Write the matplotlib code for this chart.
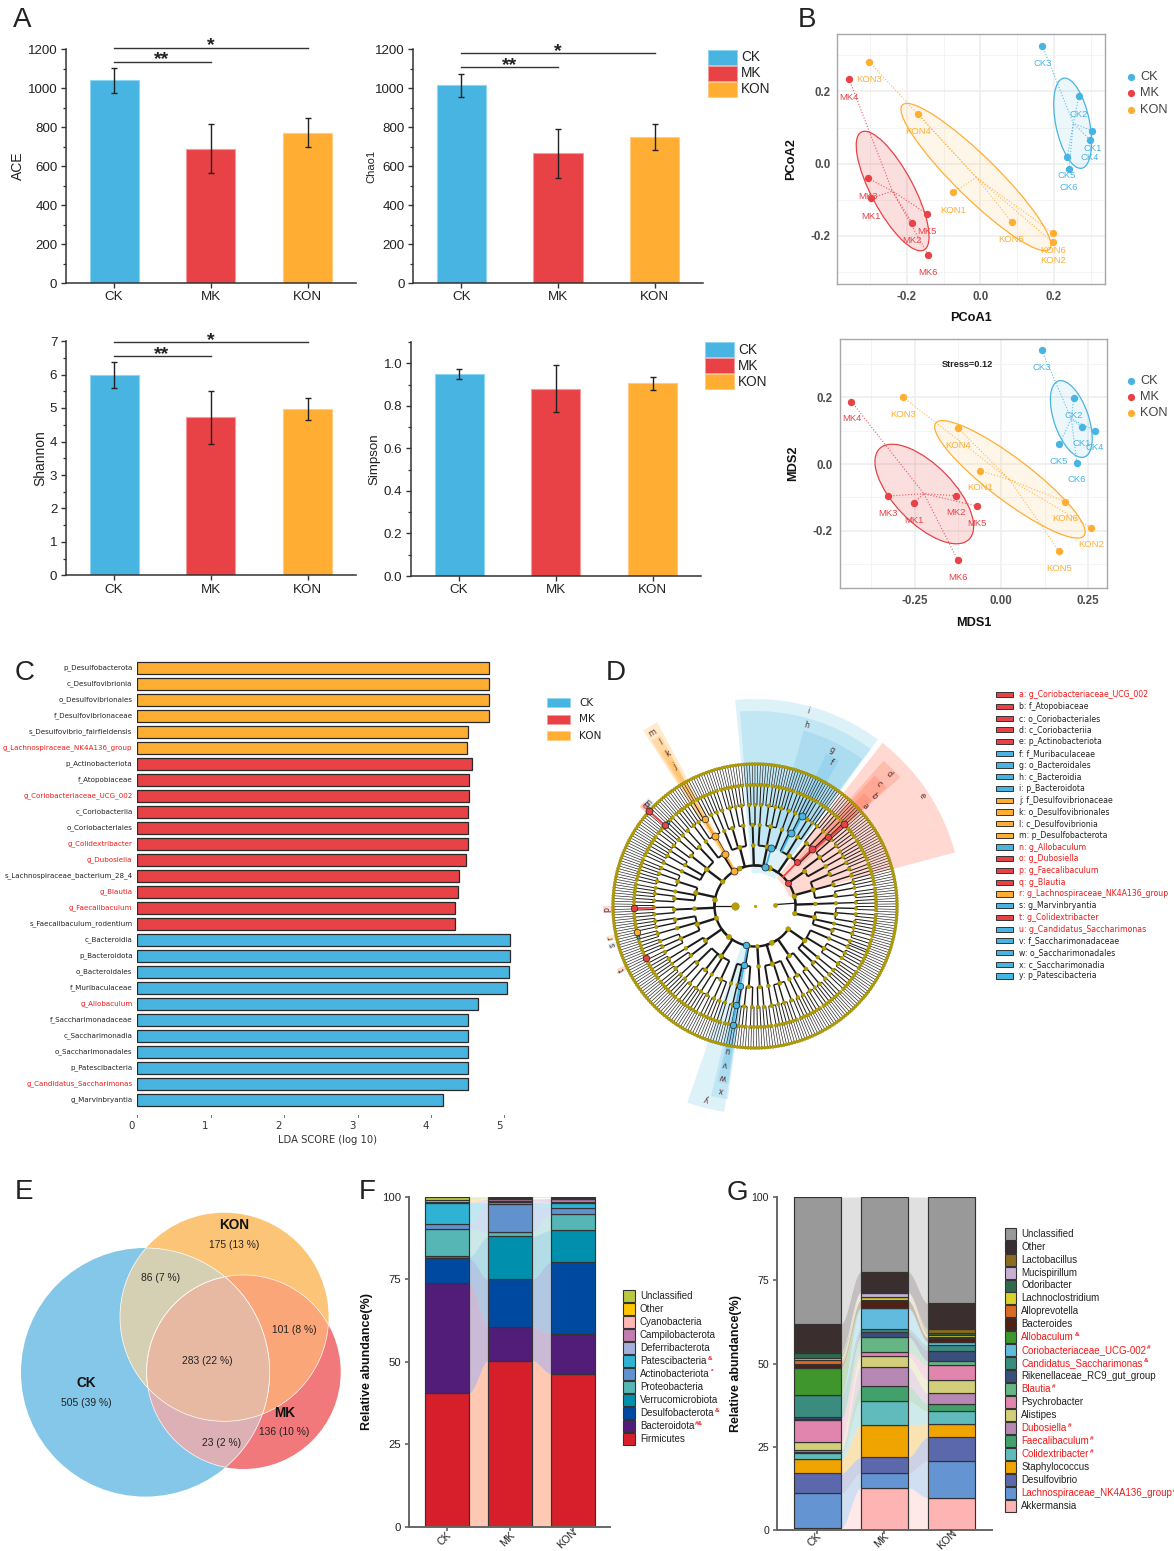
import numpy as np
import matplotlib
matplotlib.use("Agg")
import matplotlib.pyplot as plt
from matplotlib.patches import Rectangle, Ellipse, Circle, Polygon, Wedge
from matplotlib.collections import LineCollection
from matplotlib.ticker import AutoMinorLocator

plt.rcParams["font.family"] = ["Liberation Sans", "DejaVu Sans"]

W, H = 1174, 1551
CK, MK, KON = "#47B4E2", "#E84246", "#FFAE33"
group_names = ["CK", "MK", "KON"]
group_colors = [CK, MK, KON]
edge_light = ["#8FD6F2", "#F79A9C", "#FFCB80"]
wedge_tints = ["#47B4E2", "#FF6B4A", "#FFAE33"]
wedge_alpha = [0.18, 0.25, 0.25]

# panel A
ace = [1042, 690, 772]
ace_err = [64, 126, 76]
chao1 = [1015, 665, 750]
chao1_err = [60, 125, 68]
shannon = [5.98, 4.72, 4.97]
shannon_err = [0.38, 0.80, 0.32]
simpson = [0.95, 0.88, 0.906]
simpson_err = [0.022, 0.11, 0.03]

# panel B, PCoA
pcoa_names = ["CK1", "CK2", "CK3", "CK4", "CK5", "CK6",
              "MK1", "MK2", "MK3", "MK4", "MK5", "MK6",
              "KON1", "KON2", "KON3", "KON4", "KON5", "KON6"]
pcoa_x = [0.305, 0.268, 0.169, 0.298, 0.236, 0.241,
          -0.298, -0.186, -0.306, -0.357, -0.146, -0.142,
          -0.073, 0.197, -0.302, -0.170, 0.085, 0.197]
pcoa_y = [0.091, 0.187, 0.326, 0.066, 0.018, -0.016,
          -0.096, -0.163, -0.040, 0.234, -0.138, -0.252,
          -0.079, -0.217, 0.282, 0.138, -0.161, -0.191]
mds_x = [0.232, 0.209, 0.117, 0.270, 0.167, 0.218,
         -0.253, -0.131, -0.328, -0.432, -0.069, -0.125,
         -0.062, 0.259, -0.283, -0.124, 0.167, 0.184]
mds_y = [0.112, 0.197, 0.341, 0.100, 0.059, 0.004,
         -0.117, -0.095, -0.096, 0.187, -0.126, -0.289,
         -0.020, -0.191, 0.200, 0.107, -0.262, -0.113]

# panel C
lda_names = ["p_Desulfobacterota", "c_Desulfovibrionia", "o_Desulfovibrionales", "f_Desulfovibrionaceae",
             "s_Desulfovibrio_fairfieldensis", "g_Lachnospiraceae_NK4A136_group",
             "p_Actinobacteriota", "f_Atopobiaceae", "g_Coriobacteriaceae_UCG_002", "c_Coriobacteriia",
             "o_Coriobacteriales", "g_Colidextribacter", "g_Dubosiella", "s_Lachnospiraceae_bacterium_28_4",
             "g_Blautia", "g_Faecalibaculum", "s_Faecalibaculum_rodentium",
             "c_Bacteroidia", "p_Bacteroidota", "o_Bacteroidales", "f_Muribaculaceae", "g_Allobaculum",
             "f_Saccharimonadaceae", "c_Saccharimonadia", "o_Saccharimonadales", "p_Patescibacteria",
             "g_Candidatus_Saccharimonas", "g_Marvinbryantia"]
lda_scores = [4.79, 4.79, 4.79, 4.79, 4.50, 4.49,
              4.56, 4.52, 4.52, 4.51, 4.51, 4.50, 4.48, 4.38, 4.37, 4.33, 4.33,
              5.07, 5.07, 5.06, 5.04, 4.64, 4.51, 4.51, 4.51, 4.51, 4.51, 4.16]
lda_groups = [2] * 6 + [1] * 11 + [0] * 11
lda_red = ["g_Lachnospiraceae_NK4A136_group", "g_Coriobacteriaceae_UCG_002", "g_Colidextribacter",
           "g_Dubosiella", "g_Blautia", "g_Faecalibaculum", "g_Allobaculum", "g_Candidatus_Saccharimonas"]

# panel D legend
clade_letters = list("abcdefghijklmnopqrstuvwxy")
clade_names = ["g_Coriobacteriaceae_UCG_002", "f_Atopobiaceae", "o_Coriobacteriales", "c_Coriobacteriia",
               "p_Actinobacteriota", "f_Muribaculaceae", "o_Bacteroidales", "c_Bacteroidia", "p_Bacteroidota",
               "f_Desulfovibrionaceae", "o_Desulfovibrionales", "c_Desulfovibrionia", "p_Desulfobacterota",
               "g_Allobaculum", "g_Dubosiella", "g_Faecalibaculum", "g_Blautia",
               "g_Lachnospiraceae_NK4A136_group", "g_Marvinbryantia", "g_Colidextribacter",
               "g_Candidatus_Saccharimonas", "f_Saccharimonadaceae", "o_Saccharimonadales",
               "c_Saccharimonadia", "p_Patescibacteria"]
clade_group = [1, 1, 1, 1, 1, 0, 0, 0, 0, 2, 2, 2, 2, 0, 1, 1, 1, 2, 0, 1, 0, 0, 0, 0, 0]
clade_red = "anopqrtu"
# highlighted clades: angle (deg) and ring index on the cladogram
clade_angle = [42.5, 43.4, 45, 46, 35, 62.4, 64, 74.4, 75.7, 120, 120, 120, 120.7,
               136, 138.2, 181, 138, 192.5, 195, 205.6, 259.3, 259.3, 259.4, 259.4, 256.5]
clade_ring = [5, 4, 3, 2, 1, 4, 3, 2, 1, 4, 3, 2, 1, 5, 6, 5, 5, 5, 5, 5, 5, 4, 3, 2, 1]
clade_label_r = [149, 162, 174, 188, 200, 162, 174, 188, 202, 161, 175, 189, 201,
                 148, 148, 148, 148, 148, 148, 148, 147, 161, 174, 187, 199]
clade_label_a = [42.3, 42.9, 44.8, 44.7, 33.6, 62, 63.8, 74, 74.7, 119.9, 119.7, 120, 120.7,
                 135.5, 136.5, 181.3, 137.5, 192.3, 195.3, 205.5, 259.3, 259.2, 259.3, 259.4, 256]
# wedge: r in, r out, angle from, angle to
clade_wedge = [(121, 137, 41.5, 44), (101, 157, 42, 46), (81, 177, 42, 47.5), (60, 194, 41.5, 48.5), (35, 207, 15, 52),
               (101, 168, 60, 65), (81, 182, 54, 74.5), (60, 195, 53.6, 94.4), (33, 207, 53.6, 95.5),
               (95, 168, 119.5, 121), (75, 180, 119.2, 121.5), (55, 195, 119, 122), (35, 208, 118, 122.5),
               (139, 152, 134.5, 137), (139, 152, 137, 139.5), (139, 152, 180, 182.5), (139, 152, 137, 139),
               (139, 152, 191.5, 193.5), (139, 152, 194.5, 196.5), (139, 152, 204.5, 206.5),
               (120, 150, 258.5, 260.5), (100, 165, 258.5, 261), (80, 180, 258, 261.5), (60, 195, 257, 262),
               (35, 208, 251, 261.5)]
clade_size = [7, 6, 7, 6, 6, 7, 7, 7, 7, 6.5, 7, 7, 7,
              3, 7, 6.5, 6.5, 6.5, 3, 6.5, 6.5, 6.5, 6.5, 6.5, 6.5]
# background tree: number of children per node on each level, read as a repeating fan pattern
ring_radius = [20, 40.5, 60.5, 81, 101, 121, 142]
n_phyla = 13
class_fans = [1, 2, 1, 3, 2, 1, 2, 1, 2, 1]
order_fans = [3, 1, 3, 2, 4]
family_fans = [2, 1, 3, 1, 2, 2]
genus_fans = [2, 3, 1, 3, 2, 2]
species_fans = [1, 2, 1, 2, 2, 1, 2]

# panel E
venn_centers = [(145.3, 1372.3), (224.3, 1317), (243.7, 1372)]
venn_radii = [124.3, 104.3, 97]
venn_base = ["#85C7E8", "#FCC477", "#F1797C"]
venn_pair = {(0, 1): "#D5CFB4", (1, 2): "#FBA679", (0, 2): "#DCB0B5"}
venn_core = "#E8B9A2"

# panel F
phyla = ["Firmicutes", "Bacteroidota", "Desulfobacterota", "Verrucomicrobiota", "Proteobacteria",
         "Actinobacteriota", "Patescibacteria", "Deferribacterota", "Campilobacterota", "Cyanobacteria",
         "Other", "Unclassified"]
phyla_sup = {"Bacteroidota": "#&", "Desulfobacterota": "&", "Actinobacteriota": "*", "Patescibacteria": "&"}
phyla_ck = [40.6, 33.4, 7.3, 0.6, 8.4, 1.5, 6.4, 0.1, 0.1, 0.1, 0.4, 1.1]
phyla_mk = [50.3, 10.3, 14.4, 13.0, 1.4, 8.3, 0.6, 0.5, 0.4, 0.1, 0.2, 0.5]
phyla_kon = [46.4, 12.0, 21.7, 9.7, 5.0, 1.9, 1.4, 0.2, 1.1, 0.05, 0.05, 0.5]
phyla_colors = ["#D71F2B", "#521D78", "#0049A0", "#0090AD", "#56B5B5", "#6292CE", "#2FB3D5",
                "#A3B0DA", "#C17EB0", "#FFB7B7", "#FFC600", "#BBC93F"]
phyla_bands = ["#FC4B05"] + phyla_colors[1:]

# panel G
genera = ["Akkermansia", "Lachnospiraceae_NK4A136_group", "Desulfovibrio", "Staphylococcus", "Colidextribacter",
          "Faecalibaculum", "Dubosiella", "Alistipes", "Psychrobacter", "Blautia", "Rikenellaceae_RC9_gut_group",
          "Candidatus_Saccharimonas", "Coriobacteriaceae_UCG-002", "Allobaculum", "Bacteroides", "Alloprevotella",
          "Lachnoclostridium", "Odoribacter", "Mucispirillum", "Lactobacillus", "Other", "Unclassified"]
genera_red = {"Lachnospiraceae_NK4A136_group": "#", "Colidextribacter": "#", "Faecalibaculum": "#",
              "Dubosiella": "#", "Blautia": "#", "Candidatus_Saccharimonas": "&",
              "Coriobacteriaceae_UCG-002": "#", "Allobaculum": "&"}
genera_ck = [0.5, 10.5, 6.1, 4.1, 1.8, 0.4, 0.5, 2.4, 6.8, 0.2, 0.5, 6.6, 0.1, 8.2, 1.1, 1.4, 0.6, 1.5, 0.1, 0.2, 8.2, 38.2]
genera_mk = [12.7, 4.3, 4.8, 9.6, 7.4, 4.3, 5.9, 3.2, 1.2, 4.6, 1.6, 0.9, 6.1, 0.2, 2.2, 0.1, 0.8, 0.1, 1.2, 0.3, 6.1, 22.4]
genera_kon = [9.7, 11.1, 7.1, 4.0, 3.8, 2.2, 3.2, 3.9, 4.4, 1.4, 3.1, 1.6, 1.0, 0.1, 1.2, 0.1, 0.7, 0.5, 0.1, 1.2, 7.7, 31.9]
genera_colors = ["#FFB4B4", "#6495D2", "#5B69AC", "#F0A400", "#60BCBC", "#42A06B", "#B888B5", "#D2CE7A", "#E285AE",
                 "#66B585", "#3B4F7D", "#3A8C7F", "#60BBDE", "#3F962A", "#4F2015", "#D86C22", "#DAD22C", "#2F6B4A",
                 "#C8B0D4", "#8B6B1D", "#3A2E2E", "#999999"]

fig = plt.figure(figsize=(W / 100, H / 100), dpi=100)


def box(l, t, r, b):
    return fig.add_axes([l / W, 1 - b / H, (r - l) / W, (b - t) / H])


def ptext(x, y, s, **kw):
    kw.setdefault("ha", "left")
    kw.setdefault("va", "center")
    return fig.text(x / W, 1 - y / H, s, **kw)


def swatch(x0, x1, y0, y1, color, **kw):
    fig.add_artist(Rectangle((x0 / W, 1 - y1 / H), (x1 - x0) / W, (y1 - y0) / H,
                             transform=fig.transFigure, facecolor=color, **kw))


for letter, lx, ly in [("A", 13, 20), ("B", 798, 20), ("C", 15, 673), ("D", 606, 673),
                       ("E", 15, 1192), ("F", 359, 1192), ("G", 727, 1193)]:
    ptext(lx, ly, letter, fontsize=20, color="#222222")


def bar_panel(l, t, r, b, vals, errs, ymax, major, ylabel, lab_x, lab_fs):
    ax = box(l, t, r, b)
    ax.bar(range(3), vals, width=0.507, color=group_colors, edgecolor=edge_light, linewidth=0.8, zorder=2)
    ax.errorbar(range(3), vals, yerr=errs, fmt="none", ecolor="#222222", elinewidth=1, capsize=2.2, capthick=1, zorder=3)
    ax.set_xlim(-0.5, 2.5)
    ax.set_ylim(0, ymax)
    ax.set_yticks(major)
    ax.set_xticks(range(3))
    ax.set_xticklabels(group_names)
    ax.yaxis.set_minor_locator(AutoMinorLocator(2))
    ax.tick_params(labelsize=9.6, length=3.5, width=1, color="#333333", labelcolor="#222222", pad=2.5)
    ax.tick_params(which="minor", length=2.2, width=0.9, color="#333333")
    for s in ["top", "right"]:
        ax.spines[s].set_visible(False)
    for s in ["left", "bottom"]:
        ax.spines[s].set_linewidth(1.1)
        ax.spines[s].set_color("#333333")
    ptext(lab_x, (t + b) / 2 + 0, ylabel, rotation=90, ha="center", fontsize=lab_fs, color="#222222")
    return ax


def sig(ax, x0, x1, val, star, sx, sy):
    ax.plot([x0, x1], [val, val], color="#333333", lw=1, clip_on=False, zorder=4)
    ptext(sx, sy, star, ha="center", fontsize=14, fontweight="bold", color="#222222")


a1 = bar_panel(65.7, 49.3, 356, 283, ace, ace_err, 1200, range(0, 1201, 200), "ACE", 18, 10)
sig(a1, 0, 1, 1136, "**", 162, 60)
sig(a1, 0, 2, 1208, "*", 211, 46)
a2 = bar_panel(413, 49.3, 703, 283, chao1, chao1_err, 1200, range(0, 1201, 200), "Chao1", 371, 8)
sig(a2, 0, 1, 1109, "**", 510, 66)
sig(a2, 0, 2, 1181, "*", 558, 52)
a3 = bar_panel(65.7, 341, 356, 575.5, shannon, shannon_err, 7, range(0, 8), "Shannon", 40, 10)
sig(a3, 0, 1, 6.54, "**", 162, 355)
sig(a3, 0, 2, 6.96, "*", 211, 341)
a4 = bar_panel(410.7, 342, 701, 576, simpson, simpson_err, 1.1, [0, 0.2, 0.4, 0.6, 0.8, 1.0], "Simpson", 374, 9.6)
a4.set_yticklabels(["0.0", "0.2", "0.4", "0.6", "0.8", "1.0"])

for top, x0 in [(49.5, 708), (342, 705)]:
    for i in range(3):
        y0 = top + i * 16
        swatch(x0, x0 + 29, y0, y0 + 15, group_colors[i], edgecolor=edge_light[i], linewidth=0.7)
        ptext(x0 + 33, y0 + 7.5, group_names[i], fontsize=9.8, color="#222222")


def ordination(l, t, r, b, xs, ys, xlim, ylim, xt, xm, yt, ym, xlab, ylab, xfmt, ells, lab_gap, xl_y, yl_x):
    ax = box(l, t, r, b)
    ax.set_xlim(xlim)
    ax.set_ylim(ylim)
    ax.set_axisbelow(True)
    ax.set_xticks(xt)
    ax.set_xticklabels([xfmt % v for v in xt])
    ax.set_yticks(yt)
    ax.set_yticklabels(["%.1f" % v for v in yt])
    ax.set_xticks(xm, minor=True)
    ax.set_yticks(ym, minor=True)
    ax.grid(True, which="major", color="#EDEDED", lw=1.1)
    ax.grid(True, which="minor", color="#F3F3F3", lw=0.6)
    ax.tick_params(which="minor", length=0)
    ax.tick_params(length=0, labelsize=8.3, labelcolor="#4D4D4D", pad=5)
    for t_ in ax.get_xticklabels() + ax.get_yticklabels():
        t_.set_fontweight("bold")
    for s in ax.spines.values():
        s.set_color("#A8A8A8")
        s.set_linewidth(1)
    xs = np.array(xs)
    ys = np.array(ys)
    for g in range(3):
        idx = np.arange(6) + 6 * g
        cx, cy, w_, h_, ang = ells[g]
        c = group_colors[g]
        ax.add_patch(Ellipse((cx, cy), w_, h_, angle=ang, facecolor=c,
                             alpha=0.17 if g == 1 else 0.1, lw=0, zorder=1))
        ax.add_patch(Ellipse((cx, cy), w_, h_, angle=ang, fill=False, edgecolor=c, lw=0.9, zorder=2))
        mx, my = xs[idx].mean(), ys[idx].mean()
        for i in idx:
            ax.plot([xs[i], mx], [ys[i], my], ":", color=c, lw=0.8, alpha=0.85, zorder=2)
            ax.annotate(pcoa_names[i], (xs[i], ys[i]), xytext=(0, -lab_gap * 0.72), textcoords="offset points",
                        ha="center", va="center", fontsize=6.8, color=c, zorder=4)
        ax.scatter(xs[idx], ys[idx], s=28, color=c, linewidths=0, zorder=3)
    ptext((l + r) / 2 - 0, xl_y, xlab, ha="center", fontsize=9.2, fontweight="bold", color="#111111")
    ptext(yl_x, (t + b) / 2, ylab, ha="center", rotation=90, fontsize=9.2, fontweight="bold", color="#111111")
    return ax


ell_up = [(0.251, 0.112, 0.254, 0.092, 101.3), (-0.2385, -0.0756, 0.368, 0.115, 117.5), (-0.012, -0.037, 0.565, 0.115, 135)]
ordination(837.3, 34.3, 1105, 283.7, pcoa_x, pcoa_y, (-0.389, 0.339), (-0.332, 0.358),
           [-0.2, 0, 0.2], [-0.3, -0.1, 0.1, 0.3], [-0.2, 0, 0.2], [-0.3, -0.1, 0.1, 0.3],
           "PCoA1", "PCoA2", "%.1f", ell_up, 18, 318, 791)
ell_low = [(0.202, 0.135, 0.240, 0.100, 108), (-0.222, -0.09, 0.375, 0.172, 132.9), (0.025, -0.046, 0.545, 0.125, 141.6)]
ax_m = ordination(839.7, 339, 1107, 587.7, mds_x, mds_y, (-0.466, 0.305), (-0.371, 0.375),
                  [-0.25, 0, 0.25], [-0.375, -0.125, 0.125], [-0.2, 0, 0.2], [-0.3, -0.1, 0.1, 0.3],
                  "MDS1", "MDS2", "%.2f", ell_low, 17, 623, 793)
ax_m.text(-0.099, 0.299, "Stress=0.12", ha="center", va="center", fontsize=6.6, fontweight="bold", color="#222222")

for ys_ in [(76.7, 93.3, 109.7), (380.5, 397, 413)]:
    for i in range(3):
        fig.add_artist(plt.Line2D([1131 / W], [1 - ys_[i] / H], marker="o", ms=5.2, color=group_colors[i],
                                  mew=0, transform=fig.transFigure))
        ptext(1140, ys_[i], group_names[i], fontsize=9.2, color="#444444")

# panel C
ax_c = box(137, 660, 514, 1108)
y_pos = np.arange(len(lda_names))
ax_c.barh(y_pos, lda_scores, height=0.81,
          color=[group_colors[g] for g in lda_groups], edgecolor="#2A2A2A", linewidth=0.9)
ax_c.set_ylim(len(lda_names) - 1 + 0.5, -0.5)
ax_c.set_xlim(0, (514 - 137) / 73.5)
ax_c.axis("off")
for i, name in enumerate(lda_names):
    y = 668 + i * 16
    ptext(132.5, y, name, ha="right", family="DejaVu Sans", fontsize=5.15,
          color="#F01818" if name in lda_red else "#222222")
for v in range(6):
    x = 137 + v * 73.5
    fig.add_artist(plt.Line2D([x / W, x / W], [1 - 1114.5 / H, 1 - 1117 / H], color="#555555", lw=0.6,
                              transform=fig.transFigure))
    ptext(x - 5, 1126, str(v), ha="center", family="DejaVu Sans", fontsize=7.4, color="#333333")
ptext(327, 1140, "LDA SCORE (log 10)", ha="center", family="DejaVu Sans", fontsize=7.2, color="#333333")
for i in range(3):
    y = 702.5 + i * 16.7
    swatch(547, 570, y - 4.5, y + 4.5, group_colors[i], edgecolor=edge_light[i], linewidth=0.5)
    ptext(579, y, group_names[i], family="DejaVu Sans", fontsize=7.6, color="#222222")


# panel D
def grow(level, count):
    fans = [None, class_fans, order_fans, family_fans, genus_fans, species_fans]
    if level == 6:
        return []
    n = fans[level][count[level] % len(fans[level])]
    count[level] += 1
    return [grow(level + 1, count) for _ in range(n)]


count = [0] * 7
phylum_trees = [grow(1, count) for _ in range(n_phyla)]
tree_segs = {k: [] for k in range(7)}
tree_nodes = {k: [[], [], []] for k in range(7)}


def n_leaves(node):
    return 1 if not node else sum(n_leaves(c) for c in node)


total = sum(n_leaves(p) for p in phylum_trees)
step = 360.0 / total


def polar(r, a):
    return r * np.cos(np.radians(a)), r * np.sin(np.radians(a))


def place(node, level, start):
    span = n_leaves(node) * step
    if not node:
        ang = start + step / 2
    else:
        s = start
        angs = []
        for c in node:
            angs.append(place(c, level + 1, s))
            s += n_leaves(c) * step
        ang = (start + start + span) / 2
        arc = np.linspace(angs[0], angs[-1], max(2, int(abs(angs[-1] - angs[0])) + 2))
        tree_segs[level].append([polar(ring_radius[level], a) for a in arc])
        for a in angs:
            tree_segs[level].append([polar(ring_radius[level], a), polar(ring_radius[level + 1], a)])
    x, y = polar(ring_radius[level], ang)
    tree_nodes[level][0].append(x)
    tree_nodes[level][1].append(y)
    tree_nodes[level][2].append(3.0 if level == 6 else min(8.0, 3.0 + 0.38 * np.sqrt(n_leaves(node))))
    return ang


ax_d = box(600, 680, 990, 1120)
ax_d.set_xlim(-155, 235)
ax_d.set_ylim(-214, 226)
ax_d.set_aspect("equal")
ax_d.axis("off")
for i in range(25):
    r0, r1, a0, a1_ = clade_wedge[i]
    g = clade_group[i]
    ax_d.add_patch(Wedge((0, 0), r1, a0, a1_, width=r1 - r0, facecolor=wedge_tints[g],
                         alpha=wedge_alpha[g], lw=0, zorder=1))

s = -22.0
phyla_ang = []
for p in phylum_trees:
    phyla_ang.append(place(p, 1, s))
    s += n_leaves(p) * step
tree_segs[0].append([polar(ring_radius[0], 180), polar(ring_radius[1], 180)])
tree_segs[0].append([polar(ring_radius[0], 4), polar(ring_radius[1], 4)])
arc0 = np.linspace(phyla_ang[0], phyla_ang[-1], 200)
tree_segs[1].append([polar(ring_radius[1], a) for a in arc0])
widths = [0.9, 1.7, 1.4, 1.0, 0.7, 0.45, 0.5]
for k in range(6):
    ax_d.add_collection(LineCollection(tree_segs[k], colors="#1A1A1A", linewidths=widths[k], zorder=2))
for k in range(6, 0, -1):
    xs_, ys_, ds_ = tree_nodes[k]
    ax_d.scatter(xs_, ys_, s=(np.array(ds_) * 0.72) ** 2, color="#B5A000", edgecolors="#8A7A00",
                 linewidths=0.3, zorder=3 + (6 - k) * 0.05)
ax_d.scatter([polar(ring_radius[0], 180)[0]], [0], s=(7.5 * 0.72) ** 2, color="#B5A000", edgecolors="#8A7A00",
             linewidths=0.3, zorder=4)
ax_d.scatter([polar(ring_radius[0], 4)[0]], [polar(ring_radius[0], 4)[1]], s=6, color="#B5A000", zorder=4)
ax_d.scatter([0], [0], s=1.5, color="#B5A000", zorder=4)

for i in range(25):
    c = group_colors[clade_group[i]]
    r_h = ring_radius[clade_ring[i]]
    hx, hy = polar(r_h, clade_angle[i])
    if clade_ring[i] > 1 and clade_letters[i] not in "nqrst":
        p_x, p_y = polar(ring_radius[clade_ring[i] - 1], clade_angle[i])
        ax_d.plot([p_x, hx], [p_y, hy], color=c, lw=1.3, zorder=4.2)
    ax_d.scatter([hx], [hy], s=(clade_size[i] * 0.72) ** 2, color=c, edgecolors="#222222", linewidths=0.5, zorder=5)
    lx, ly = polar(clade_label_r[i], clade_label_a[i])
    ax_d.text(lx, ly, clade_letters[i], rotation=clade_label_a[i] - 90, rotation_mode="anchor",
              ha="center", va="center", family="DejaVu Sans", fontsize=5.8, color="#5A2A2A", zorder=6)

for i in range(25):
    y = 694.7 + i * 11.72
    swatch(996, 1013, y - 2.6, y + 2.6, group_colors[clade_group[i]], edgecolor="#333333", linewidth=0.7)
    ptext(1019, y, clade_letters[i] + ": " + clade_names[i], family="DejaVu Sans", fontsize=5.55,
          color="#F01818" if clade_letters[i] in clade_red else "#222222")

# panel E
ax_e = box(0, 1170, 360, 1510)
ax_e.set_xlim(0, 360)
ax_e.set_ylim(1510, 1170)
ax_e.axis("off")


def overlap(ids):
    pts = []
    for i in ids:
        t = np.linspace(0, 2 * np.pi, 1440)
        x = venn_centers[i][0] + venn_radii[i] * np.cos(t)
        y = venn_centers[i][1] + venn_radii[i] * np.sin(t)
        keep = np.ones_like(t, dtype=bool)
        for j in ids:
            if j != i:
                keep &= (x - venn_centers[j][0]) ** 2 + (y - venn_centers[j][1]) ** 2 <= venn_radii[j] ** 2
        pts.append(np.c_[x[keep], y[keep]])
    pts = np.vstack(pts)
    c = pts.mean(axis=0)
    return pts[np.argsort(np.arctan2(pts[:, 1] - c[1], pts[:, 0] - c[0]))]


for i in range(3):
    ax_e.add_patch(Circle(venn_centers[i], venn_radii[i], facecolor=venn_base[i], edgecolor="none"))
for ids, col in venn_pair.items():
    ax_e.add_patch(Polygon(overlap(list(ids)), closed=True, facecolor=col, edgecolor="#FFFFFF", lw=0.5))
ax_e.add_patch(Polygon(overlap([0, 1, 2]), closed=True, facecolor=venn_core, edgecolor="#FFFFFF", lw=0.5))
for s_, zx, zy in [("KON", 703, 166), ("CK", 259, 640), ("MK", 854, 728)]:
    ptext(zx / 3, 1170 + zy / 3, s_, ha="center", fontsize=9.8, fontweight="bold", color="#111111")
for s_, zx, zy in [("175 (13 %)", 703, 225), ("86 (7 %)", 482, 325), ("101 (8 %)", 884, 480),
                   ("283 (22 %)", 623, 572), ("505 (39 %)", 259, 698), ("136 (10 %)", 854, 786),
                   ("23 (2 %)", 664, 820)]:
    ptext(zx / 3, 1170 + zy / 3, s_, ha="center", fontsize=7.4, color="#222222")


# panels F and G
def stacked(l, t, r, b, tables, colors, bands, edge, ylabel, lab_x, tick_fs, tick_centers, tick_y):
    ax = box(l, t, r, b)
    tables = np.array(tables, dtype=float)
    cum = np.cumsum(tables, axis=1)
    start = np.c_[np.zeros(3), cum[:, :-1]]
    wid = 0.70
    for k in range(tables.shape[1]):
        for g in range(2):
            t_ = np.linspace(0, 1, 40)
            w_ = t_ * t_ * (3 - 2 * t_)
            xs = g + wid / 2 + t_ * (1 - wid)
            lo = start[g, k] + (start[g + 1, k] - start[g, k]) * w_
            hi = cum[g, k] + (cum[g + 1, k] - cum[g, k]) * w_
            ax.fill_between(xs, lo, hi, color=bands[k], alpha=0.3, lw=0, zorder=1)
        ax.bar(range(3), tables[:, k], bottom=start[:, k], width=wid, color=colors[k],
               edgecolor=edge, linewidth=0.85, zorder=2)
    ax.set_ylim(0, 100)
    ax.set_yticks([0, 25, 50, 75, 100])
    ax.set_xticks(range(3))
    ax.set_xticklabels([])
    ax.tick_params(labelsize=tick_fs, length=3, width=1.1, color="#555555", labelcolor="#222222", pad=3)
    for s in ["top", "right"]:
        ax.spines[s].set_visible(False)
    for s in ["left", "bottom"]:
        ax.spines[s].set_linewidth(1.4)
        ax.spines[s].set_color("#666666")
    for name, cx in zip(group_names, tick_centers):
        ptext(cx, tick_y, name, rotation=45, ha="center", fontsize=7.7, color="#222222")
    ptext(lab_x, (t + b) / 2 + 0, ylabel, rotation=90, ha="center", fontsize=9, fontweight="bold", color="#111111")
    return ax


rend = fig.canvas.get_renderer()


def sup_after(txt, y, mark):
    ext = txt.get_window_extent(rend)
    ptext(ext.x1 + 1, y - 2.5, mark, fontsize=4.6, fontweight="bold", color="#F01818")


ax_f = stacked(409.3, 1196.7, 610, 1526.7, [phyla_ck, phyla_mk, phyla_kon], phyla_colors, phyla_bands,
               "#333333", "Relative abundance(%)", 367, 8.2, (445, 508, 567), 1539)
ax_f.set_xlim(-0.606, 2.595)
for i, name in enumerate(phyla[::-1]):
    y = 1296.3 + i * 13
    swatch(623.3, 635.3, y - 6, y + 6, phyla_colors[::-1][i], edgecolor="#333333", linewidth=0.8)
    t_ = ptext(640, y, name, fontsize=7.0, color="#222222")
    if name in phyla_sup:
        sup_after(t_, y, phyla_sup[name])

ax_g = stacked(777.3, 1197, 991.7, 1530, [genera_ck, genera_mk, genera_kon], genera_colors, genera_colors,
               "#333333", "Relative abundance(%)", 736, 7.6, (815, 882, 947), 1540)
ax_g.set_xlim(-0.596, 2.604)
for i, name in enumerate(genera[::-1]):
    y = 1233.7 + i * 12.95
    swatch(1004.7, 1016.3, y - 6, y + 6, genera_colors[::-1][i], edgecolor="#333333", linewidth=0.8)
    red = name in genera_red
    t_ = ptext(1021.3, y, name, fontsize=7.0, color="#F01818" if red else "#222222")
    if red:
        sup_after(t_, y, genera_red[name])

fig.savefig("out.png", dpi=100)
